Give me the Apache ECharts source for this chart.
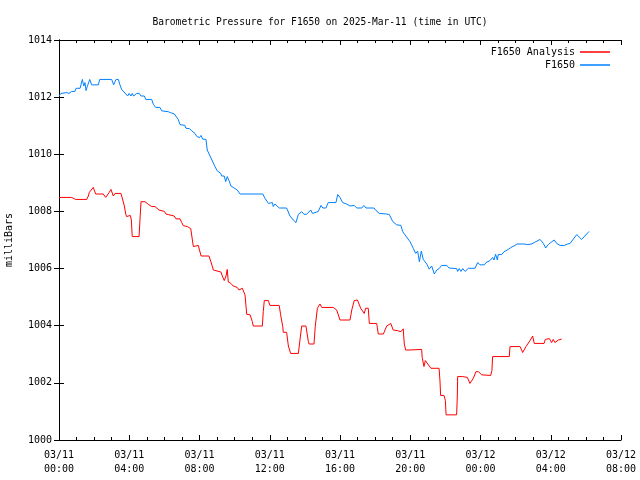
<!DOCTYPE html>
<html>
<head>
<meta charset="utf-8">
<script src="https://cdn.jsdelivr.net/npm/echarts@6/dist/echarts.min.js"></script>
<style>html,body{margin:0;padding:0;background:#fff}#c{width:640px;height:480px}</style>
</head>
<body>
<div id="c"></div>
<script>
// Hours since 03/11 00:00 UTC and pressure (mb)
const blueHours = [0,0.11,0.44,0.50,0.57,0.72,0.91,0.97,1.20,1.33,1.41,1.48,1.54,1.61,1.75,1.86,2.24,2.32,3.00,3.11,3.19,3.25,3.38,3.47,3.57,3.70,3.81,3.91,3.99,4.10,4.17,4.25,4.33,4.42,4.57,4.67,4.86,4.94,5.28,5.37,5.51,5.75,5.85,6.22,6.34,6.45,6.57,6.79,6.89,7.17,7.23,7.42,7.56,7.74,7.84,7.93,7.99,8.09,8.18,8.37,8.44,8.60,8.88,9.01,9.21,9.26,9.41,9.49,9.58,9.68,9.79,10.02,10.15,10.31,11.60,11.73,11.92,12.01,12.15,12.20,12.30,12.40,12.54,12.96,13.15,13.34,13.49,13.63,13.82,13.95,14.10,14.33,14.44,14.52,14.76,14.92,15.02,15.20,15.33,15.77,15.87,16.00,16.15,16.38,16.57,16.68,16.81,16.95,17.24,17.36,17.48,17.94,18.05,18.12,18.24,18.66,18.81,18.89,19.00,19.23,19.47,19.57,19.70,19.99,20.17,20.31,20.42,20.52,20.63,20.74,20.94,21.08,21.22,21.37,21.51,21.64,21.79,22.08,22.21,22.64,22.70,22.79,22.89,22.99,23.12,23.31,23.69,23.84,23.97,24.22,24.31,24.54,24.64,24.69,24.77,24.86,24.96,25.01,25.11,25.21,25.34,25.45,25.58,25.74,25.96,26.08,26.48,26.57,26.69,26.78,26.91,27.06,27.16,27.39,27.58,27.71,27.86,28.00,28.11,28.20,28.34,28.53,28.77,28.96,29.10,29.19,29.48,29.76,30.18];
const blueValues = [1012.04,1012.13,1012.16,1012.20,1012.13,1012.20,1012.20,1012.31,1012.31,1012.62,1012.39,1012.51,1012.23,1012.37,1012.62,1012.43,1012.43,1012.62,1012.62,1012.43,1012.54,1012.62,1012.62,1012.43,1012.27,1012.18,1012.13,1012.04,1012.13,1012.04,1012.13,1012.04,1012.04,1012.13,1012.13,1012.04,1012.04,1011.92,1011.92,1011.75,1011.64,1011.64,1011.52,1011.49,1011.46,1011.53,1011.41,1011.22,1011.04,1011.01,1010.91,1010.90,1010.82,1010.73,1010.63,1010.69,1010.58,1010.66,1010.53,1010.52,1010.15,1009.94,1009.57,1009.42,1009.33,1009.24,1009.24,1009.04,1009.22,1009.08,1008.89,1008.80,1008.75,1008.61,1008.61,1008.46,1008.28,1008.21,1008.31,1008.17,1008.26,1008.19,1008.12,1008.12,1007.84,1007.70,1007.61,1007.90,1007.99,1007.90,1007.90,1008.05,1007.93,1008.00,1008.00,1008.21,1008.12,1008.12,1008.31,1008.31,1008.59,1008.49,1008.31,1008.26,1008.19,1008.12,1008.21,1008.12,1008.12,1008.21,1008.12,1008.12,1008.03,1008.08,1007.93,1007.91,1007.89,1007.82,1007.65,1007.53,1007.51,1007.29,1007.18,1006.94,1006.71,1006.53,1006.61,1006.24,1006.61,1006.32,1006.16,1005.98,1006.09,1005.81,1005.95,1006.00,1006.11,1006.11,1006.02,1006.00,1005.90,1006.00,1005.90,1006.00,1005.90,1006.01,1006.01,1006.21,1006.13,1006.13,1006.21,1006.28,1006.28,1006.39,1006.30,1006.50,1006.30,1006.49,1006.53,1006.49,1006.59,1006.59,1006.67,1006.74,1006.81,1006.86,1006.86,1006.93,1006.84,1006.91,1006.86,1006.91,1006.86,1007.02,1006.88,1006.72,1006.84,1006.91,1006.91,1007.00,1006.88,1006.81,1006.81,1006.86,1006.88,1006.95,1007.19,1007.02,1007.30];

const redHours = [0,0.72,0.81,0.95,1.58,1.67,1.73,1.82,1.95,2.09,2.52,2.66,2.73,2.85,2.96,3.09,3.19,3.53,3.63,3.72,3.80,3.85,3.95,4.06,4.12,4.17,4.56,4.61,4.67,4.90,5.08,5.28,5.47,5.69,5.75,6.00,6.09,6.22,6.32,6.56,6.66,6.89,6.99,7.08,7.31,7.40,7.50,7.59,7.65,7.74,7.93,8.01,8.09,8.54,8.65,8.79,8.84,9.22,9.30,9.41,9.51,9.58,9.64,9.79,9.92,10.02,10.15,10.25,10.36,10.44,10.53,10.59,10.69,10.88,11.01,11.06,11.58,11.63,11.69,11.92,12.01,12.54,12.62,12.74,12.77,12.96,13.06,13.19,13.63,13.72,13.82,14.06,14.20,14.24,14.52,14.59,14.71,14.86,14.96,15.62,15.81,16.00,16.57,16.67,16.81,16.99,17.18,17.29,17.38,17.46,17.61,17.67,18.09,18.18,18.47,18.66,18.89,19.03,19.26,19.47,19.60,19.66,19.74,19.99,20.65,20.68,20.78,20.86,20.97,21.08,21.18,21.64,21.69,21.73,21.92,22.00,22.04,22.64,22.68,22.70,22.99,23.06,23.25,23.31,23.40,23.50,23.59,23.74,23.88,24.07,24.58,24.65,24.69,25.64,25.68,26.25,26.34,26.40,26.48,26.59,26.82,26.97,27.06,27.62,27.69,27.92,28.05,28.14,28.24,28.43,28.62];
const redValues = [1008.49,1008.49,1008.46,1008.42,1008.42,1008.54,1008.67,1008.69,1008.84,1008.61,1008.61,1008.49,1008.52,1008.66,1008.77,1008.54,1008.63,1008.63,1008.40,1008.19,1007.91,1007.82,1007.86,1007.86,1007.70,1007.12,1007.12,1007.70,1008.34,1008.34,1008.25,1008.17,1008.17,1008.05,1008.00,1008.00,1007.91,1007.89,1007.84,1007.84,1007.74,1007.74,1007.61,1007.50,1007.47,1007.42,1007.40,1007.47,1006.77,1006.79,1006.81,1006.77,1006.44,1006.44,1006.24,1005.95,1005.88,1005.88,1005.74,1005.58,1005.74,1005.97,1005.53,1005.48,1005.39,1005.34,1005.34,1005.25,1005.23,1005.31,1005.34,1005.08,1004.40,1004.38,1004.14,1003.99,1003.99,1004.49,1004.88,1004.88,1004.71,1004.71,1004.38,1003.97,1003.77,1003.77,1003.29,1003.03,1003.03,1003.50,1003.99,1003.99,1003.44,1003.36,1003.36,1003.97,1004.61,1004.76,1004.64,1004.64,1004.55,1004.20,1004.20,1004.55,1004.88,1004.90,1004.61,1004.55,1004.43,1004.61,1004.61,1004.08,1004.08,1003.71,1003.71,1003.99,1004.08,1003.85,1003.83,1003.79,1003.89,1003.36,1003.15,1003.15,1003.17,1002.89,1002.57,1002.78,1002.75,1002.59,1002.51,1002.51,1002.10,1001.56,1001.56,1001.38,1000.88,1000.88,1001.54,1002.22,1002.22,1002.19,1002.19,1002.22,1001.98,1001.98,1002.16,1002.39,1002.39,1002.28,1002.26,1002.43,1002.92,1002.92,1003.27,1003.27,1003.15,1003.06,1003.13,1003.27,1003.48,1003.64,1003.38,1003.38,1003.52,1003.55,1003.41,1003.52,1003.41,1003.50,1003.53];

const xTickLabels = ["03/11\n00:00","03/11\n04:00","03/11\n08:00","03/11\n12:00","03/11\n16:00","03/11\n20:00","03/12\n00:00","03/12\n04:00","03/12\n08:00"];
const seriesNames = ["F1650 Analysis", "F1650"];

const redData = redHours.map((h, i) => [h, redValues[i]]);
const blueData = blueHours.map((h, i) => [h, blueValues[i]]);

const FONT = 'DejaVu Sans Mono';
const axisCommon = {
  type: 'value',
  axisLine: { show: true, lineStyle: { color: '#000', width: 1 } },
  splitLine: { show: false }
};

const chart = echarts.init(document.getElementById('c'), null, { renderer: 'canvas' });
chart.setOption({
  backgroundColor: '#fff',
  animation: false,
  title: {
    text: 'Barometric Pressure for F1650 on 2025-Mar-11 (time in UTC)',
    left: 'center', top: 12,
    textStyle: { fontFamily: FONT, fontSize: 9.6, fontWeight: 'normal', color: '#000' }
  },
  legend: {
    orient: 'vertical', right: 25, top: 42, align: 'right',
    itemWidth: 30, itemHeight: 1.5, itemGap: 3, icon: 'rect',
    textStyle: { fontFamily: FONT, fontSize: 10, color: '#000' },
    data: seriesNames
  },
  grid: { left: 59, right: 19, top: 40, bottom: 40, containLabel: false, outerBoundsMode: 'none' },
  xAxis: [
    Object.assign({}, axisCommon, {
      min: 0, max: 32, interval: 4, position: 'bottom',
      axisTick: { show: true, inside: true, length: 5, lineStyle: { color: '#000' } },
      minorTick: { show: true, splitNumber: 4, length: 3, lineStyle: { color: '#000' } },
      axisLabel: {
        fontFamily: FONT, fontSize: 10, color: '#000', margin: 8, lineHeight: 14,
        formatter: v => xTickLabels[Math.round(v / 4)] || ''
      }
    }),
    Object.assign({}, axisCommon, {
      min: 0, max: 32, interval: 4, position: 'top',
      axisTick: { show: true, inside: true, length: 5, lineStyle: { color: '#000' } },
      minorTick: { show: true, splitNumber: 4, length: 3, lineStyle: { color: '#000' } },
      axisLabel: { show: false }
    })
  ],
  yAxis: [
    Object.assign({}, axisCommon, {
      min: 1000, max: 1014, interval: 2, position: 'left',
      name: 'milliBars', nameLocation: 'middle', nameGap: 45, nameRotate: 90,
      nameTextStyle: { fontFamily: FONT, fontSize: 10, color: '#000' },
      axisTick: { show: true, inside: true, length: 5, lineStyle: { color: '#000' } },
      axisLabel: { fontFamily: FONT, fontSize: 10, color: '#000', margin: 7, formatter: v => String(v) }
    }),
    Object.assign({}, axisCommon, {
      min: 1000, max: 1014, interval: 2, position: 'right',
      axisTick: { show: true, inside: true, length: 5, lineStyle: { color: '#000' } },
      axisLabel: { show: false }
    })
  ],
  series: [
    {
      name: seriesNames[0], type: 'line', data: redData, xAxisIndex: 0, yAxisIndex: 0,
      showSymbol: false, symbol: 'none', color: '#ff0000',
      lineStyle: { width: 1, color: '#ff0000' }
    },
    {
      name: seriesNames[1], type: 'line', data: blueData, xAxisIndex: 0, yAxisIndex: 0,
      showSymbol: false, symbol: 'none', color: '#0080ff',
      lineStyle: { width: 1, color: '#0080ff' }
    }
  ]
});
</script>
</body>
</html>
